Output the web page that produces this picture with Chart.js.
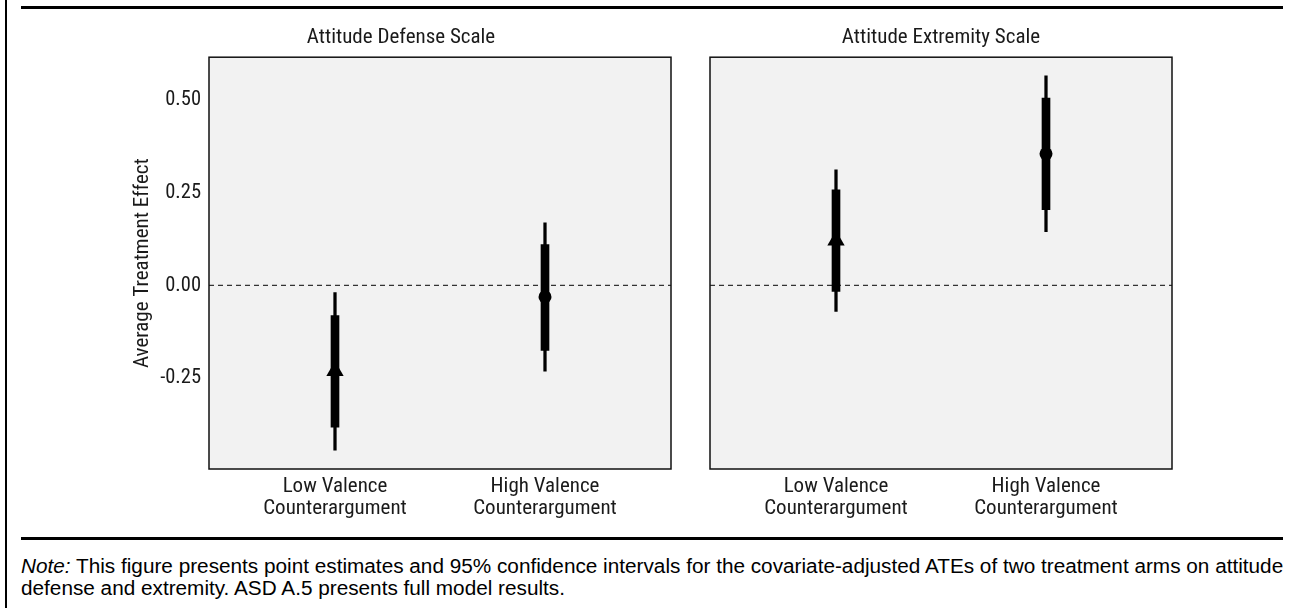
<!DOCTYPE html>
<html>
<head>
<meta charset="utf-8">
<script src="https://cdn.jsdelivr.net/npm/chart.js@4.4.1/dist/chart.umd.min.js"></script>
<style>
  html, body { margin: 0; padding: 0; background: #fff; }
  body { width: 1295px; height: 608px; position: relative; overflow: hidden; }
  canvas { position: absolute; }
  .rule { position: absolute; background: #000; }
  #note {
    position: absolute; left: 21px; top: 555px; white-space: nowrap;
    font-family: 'Liberation Sans', Arial, sans-serif; font-size: 17px;
    line-height: 21.5px; color: #000;
  }
</style>
</head>
<body>
<div class="rule" style="left:5px;top:0;width:2px;height:608px"></div>
<div class="rule" style="left:21px;top:6px;width:1262px;height:3px"></div>
<div class="rule" style="left:21px;top:537px;width:1262px;height:3px"></div>

<canvas id="chart-defense" width="590" height="520" style="left:100px;top:20px"></canvas>
<canvas id="chart-extremity" width="600" height="520" style="left:690px;top:20px"></canvas>

<div id="note"><span id="note-1"><i>Note:</i> This figure presents point estimates and 95% confidence intervals for the covariate-adjusted ATEs of two treatment arms on attitude</span><br>defense and extremity. ASD A.5 presents full model results.</div>

<script>
// ==========================================
// DATA
// ==========================================
const categories = [['Low Valence', 'Counterargument'], ['High Valence', 'Counterargument']];
const panelTitles = ['Attitude Defense Scale', 'Attitude Extremity Scale'];
const yTicks = [-0.25, 0, 0.25, 0.5];
const yTickLabels = ['-0.25', '0.00', '0.25', '0.50'];
const yAxisTitle = 'Average Treatment Effect';

// Attitude defense
const defenseEst    = [-0.231, -0.031];
const defenseInLo   = [-0.382, -0.175];
const defenseInHi   = [-0.081,  0.110];
const defenseCiLo   = [-0.444, -0.231];
const defenseCiHi   = [-0.019,  0.169];

// Attitude extremity
const extremityEst  = [0.121, 0.355];
const extremityInLo = [-0.016, 0.204];
const extremityInHi = [0.258, 0.505];
const extremityCiLo = [-0.070, 0.145];
const extremityCiHi = [0.312, 0.565];

const pointShapes = ['triangle', 'circle'];
const pointSizes = [10, 6.5];
const refLine = 0;

// ==========================================
// CHART SETUP
// ==========================================
const FONT = "'Roboto Condensed', 'Liberation Sans Narrow', 'DejaVu Sans Condensed', Roboto, sans-serif";
const INK = '#1a1a1a';

// grey panel + black frame round the plot area
const panelPlugin = {
  id: 'panel',
  beforeDatasetsDraw(chart) {
    const { ctx, chartArea: a } = chart;
    ctx.save();
    ctx.fillStyle = '#f2f2f2';
    ctx.fillRect(a.left, a.top, a.right - a.left, a.bottom - a.top);
    ctx.restore();
  },
  afterDraw(chart) {
    const { ctx, chartArea: a } = chart;
    ctx.save();
    ctx.strokeStyle = '#111';
    ctx.lineWidth = 1.5;
    ctx.strokeRect(a.left, a.top, a.right - a.left, a.bottom - a.top);
    ctx.restore();
  }
};

function makePanel(canvasId, title, est, inLo, inHi, ciLo, ciHi, showY, pad) {
  const xs = categories.map((c, i) => i + 1);
  return new Chart(document.getElementById(canvasId), {
    type: 'bar',
    data: {
      datasets: [
        {
          type: 'scatter',
          data: xs.map((x, i) => ({ x: x, y: est[i] })),
          backgroundColor: '#000',
          borderWidth: 0,
          pointStyle: pointShapes,
          pointRadius: pointSizes,
          order: 0
        },
        {
          data: xs.map((x, i) => ({ x: x, y: [inLo[i], inHi[i]] })),
          backgroundColor: '#000',
          barThickness: 8,
          grouped: false,
          order: 1
        },
        {
          data: xs.map((x, i) => ({ x: x, y: [ciLo[i], ciHi[i]] })),
          backgroundColor: '#000',
          barThickness: 2.6,
          grouped: false,
          order: 2
        },
        {
          type: 'line',
          data: [{ x: 0.4, y: refLine }, { x: 2.6, y: refLine }],
          borderColor: '#333',
          borderWidth: 1.3,
          borderDash: [5, 4],
          pointRadius: 0,
          order: 3
        }
      ]
    },
    options: {
      responsive: false,
      animation: false,
      events: [],
      layout: { padding: pad },
      plugins: {
        legend: { display: false },
        tooltip: { enabled: false },
        title: {
          display: true,
          text: title,
          color: INK,
          font: { family: FONT, size: 21, weight: 'normal', lineHeight: 1.2 },
          padding: { top: 0, bottom: 7 }
        }
      },
      scales: {
        x: {
          type: 'linear',
          offset: false,
          min: 0.4,
          max: 2.6,
          grid: { display: false, drawTicks: false },
          border: { display: false },
          afterBuildTicks: s => { s.ticks = xs.map(v => ({ value: v })); },
          afterFit: s => { s.height = 60; },
          ticks: {
            autoSkip: false,
            maxRotation: 0,
            padding: 7,
            color: INK,
            font: { family: FONT, size: 21, lineHeight: 1.05 },
            callback: v => categories[v - 1]
          }
        },
        y: {
          display: showY,
          min: -0.495,
          max: 0.6155,
          grid: { display: false, drawTicks: false },
          border: { display: false },
          afterBuildTicks: s => { s.ticks = yTicks.map(v => ({ value: v })); },
          afterFit: s => { s.width = showY ? 78 : 0; },
          ticks: {
            padding: 8,
            color: INK,
            font: { family: FONT, size: 20.5 },
            callback: v => yTickLabels[yTicks.indexOf(v)]
          },
          title: {
            display: true,
            text: yAxisTitle,
            color: INK,
            font: { family: FONT, size: 21, lineHeight: 1.15 },
            padding: 0
          }
        }
      }
    },
    plugins: [panelPlugin]
  });
}

makePanel('chart-defense', panelTitles[0], defenseEst, defenseInLo, defenseInHi, defenseCiLo, defenseCiHi,
  true, { left: 31, right: 19, top: 5, bottom: 11 });
makePanel('chart-extremity', panelTitles[1], extremityEst, extremityInLo, extremityInHi, extremityCiLo, extremityCiHi,
  false, { left: 20, right: 118, top: 5, bottom: 11 });

// fit the first note line to the width of the rules, as in the original
const note = document.getElementById('note');
const w = document.getElementById('note-1').getBoundingClientRect().width;
note.style.fontSize = (17 * 1262 / w).toFixed(2) + 'px';
</script>
</body>
</html>
